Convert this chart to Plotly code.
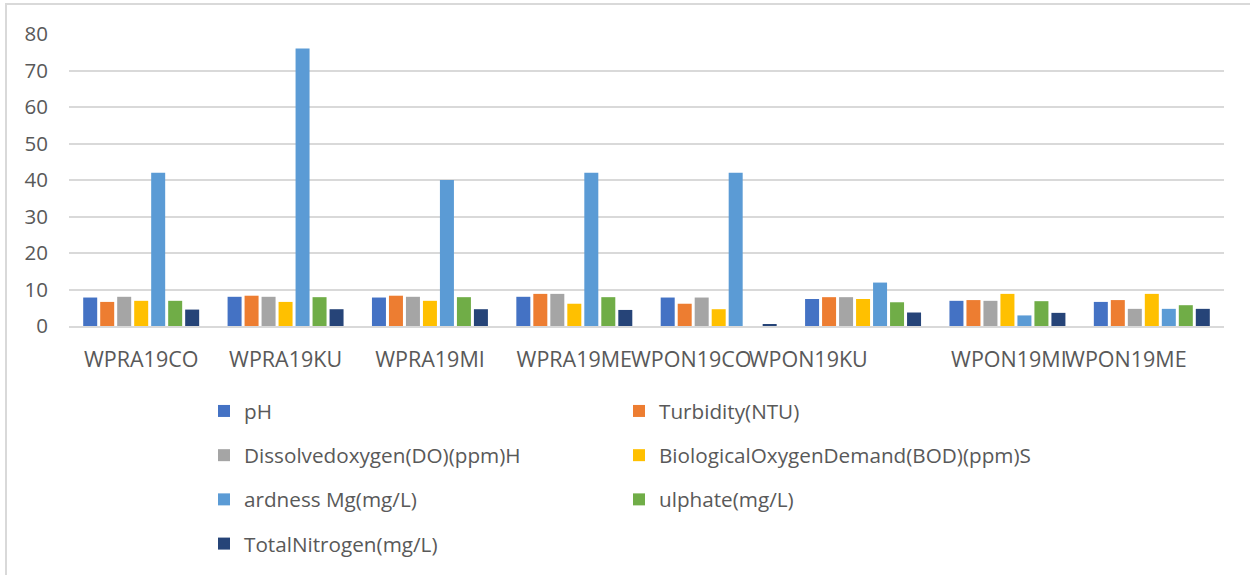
import plotly.graph_objects as go

# Sampling sites
sites = ["WPRA19CO", "WPRA19KU", "WPRA19MI", "WPRA19ME",
         "WPON19CO", "WPON19KU", "WPON19MI", "WPON19ME"]
# where each site label sits along the axis (site index units)
label_pos = [0, 1, 2, 3, 3.81, 4.62, 6.01, 6.82]

ph = [7.8, 8.0, 7.8, 8.0, 7.8, 7.4, 6.9, 6.6]
turbidity = [6.6, 8.3, 8.3, 8.8, 6.1, 7.9, 7.1, 7.1]
dissolved_oxygen = [8.0, 8.0, 8.0, 8.8, 7.8, 7.9, 6.9, 4.7]
bod = [6.9, 6.6, 6.9, 6.1, 4.6, 7.4, 8.8, 8.8]
hardness_mg = [42, 76, 40, 42, 42, 11.9, 2.9, 4.7]
sulphate = [6.9, 7.9, 7.9, 7.9, 0, 6.5, 6.8, 5.7]
total_nitrogen = [4.5, 4.6, 4.6, 4.4, 0.3, 3.7, 3.6, 4.7]

series = [
    ("pH", ph, "#4472C4", "legend"),
    ("Turbidity(NTU)", turbidity, "#ED7D31", "legend2"),
    ("Dissolvedoxygen(DO)(ppm)H", dissolved_oxygen, "#A5A5A5", "legend"),
    ("BiologicalOxygenDemand(BOD)(ppm)S", bod, "#FFC000", "legend2"),
    ("ardness Mg(mg/L)", hardness_mg, "#5B9BD5", "legend"),
    ("ulphate(mg/L)", sulphate, "#70AD47", "legend2"),
    ("TotalNitrogen(mg/L)", total_nitrogen, "#264478", "legend"),
]

FONT = "Open Sans"
TXT = "#595959"
GRID = "#d9d9d9"

x_idx = list(range(len(sites)))

fig = go.Figure()
for i, (name, vals, color, lg) in enumerate(series):
    fig.add_trace(go.Bar(
        x=x_idx, y=vals, name=name,
        marker=dict(color=color, line=dict(width=0)),
        legend=lg, legendgroup=name,
    ))

# plot area geometry in pixels
L, R, T, B = 69, 26, 34, 249
W, H = 1250, 575
pw = W - L - R
ph_px = H - T - B


def px_x(px):
    return (px - L) / pw


def px_y(py):
    return (H - B - py) / ph_px


legend_common = dict(
    orientation="v",
    font=dict(family=FONT, size=20.7, color=TXT),
    bgcolor="rgba(0,0,0,0)",
    tracegroupgap=14.3,
    xanchor="left", yanchor="top",
    itemwidth=30,
)

fig.update_layout(
    width=W, height=H,
    margin=dict(l=L, r=R, t=T, b=B, autoexpand=False),
    paper_bgcolor="white",
    plot_bgcolor="white",
    barmode="group",
    bargap=0.176,
    bargroupgap=0.176,
    font=dict(family=FONT, size=20, color=TXT),
    legend=dict(x=px_x(204), y=px_y(391), **legend_common),
    legend2=dict(x=px_x(619), y=px_y(391), **legend_common),
    xaxis=dict(
        range=[-0.5, len(sites) - 0.5],
        tickmode="array", tickvals=label_pos, ticktext=sites,
        tickangle=0, automargin=False,
        showgrid=False, zeroline=False,
        showline=True, linecolor=GRID, linewidth=2,
        ticks="", ticklabelstandoff=13,
        tickfont=dict(family=FONT, size=21.5, color=TXT),
    ),
    yaxis=dict(
        range=[0, 80], dtick=10, automargin=False,
        showgrid=True, gridcolor=GRID, gridwidth=1.5,
        zeroline=False, showline=False,
        ticks="", ticklabelstandoff=20,
        tickfont=dict(family=FONT, size=20.5, color=TXT),
    ),
    shapes=[dict(
        type="rect", xref="paper", yref="paper",
        x0=px_x(6), x1=px_x(1300), y0=px_y(620), y1=px_y(4),
        line=dict(color=GRID, width=2), fillcolor="rgba(0,0,0,0)",
        layer="below",
    )],
)

fig.write_html("out.html")
